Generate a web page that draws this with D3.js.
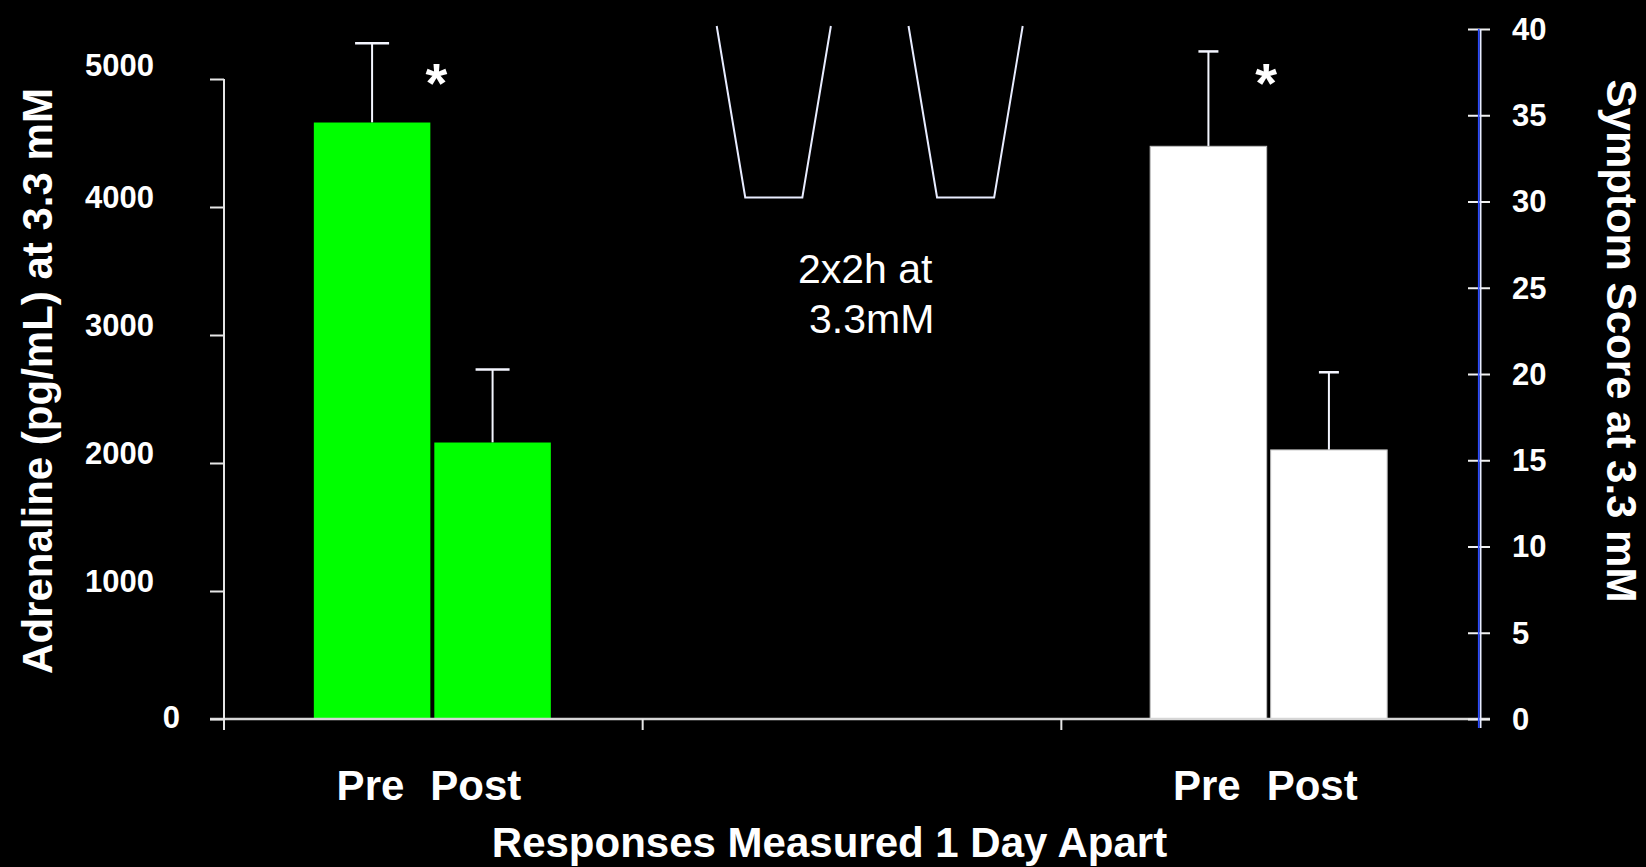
<!DOCTYPE html>
<html><head><meta charset="utf-8">
<script src="https://cdn.jsdelivr.net/npm/d3@7"></script>
<style>html,body{margin:0;padding:0;background:#000;overflow:hidden}</style>
</head><body>
<svg id="chart" width="1646" height="867"></svg>
<script>
// ---------- data ----------
const groups = ["Day 1", "Clamp", "Day 2"];
const conditions = ["Pre", "Post"];
const adrenalineMean = [4660, 2160];      // pg/mL (left axis)
const adrenalineSEM  = [620, 570];
const symptomMean    = [33.2, 15.6];      // score (right axis)
const symptomSEM     = [5.5, 4.5];
const significance   = ["*", "*"];
const leftTicks  = [0, 1000, 2000, 3000, 4000, 5000];
const rightTicks = [0, 5, 10, 15, 20, 25, 30, 35, 40];
const clampTimes   = [[0, 0.5, 1.5, 2.0], [3.36, 3.86, 4.86, 5.36]]; // h
const clampGlucose = [5.0, 3.3, 3.3, 5.0];                           // mM

// ---------- layout ----------
const svg = d3.select("#chart");
svg.append("rect").attr("width",1646).attr("height",867).attr("fill","#000");
const FONT = "'Liberation Sans', Arial, sans-serif";

const x = d3.scaleBand().domain(groups).range([224, 1480]);
const xSub = d3.scaleBand().domain(conditions).range([-118.5, 118.5]).paddingInner(0.033);
const yL = d3.scaleLinear().domain([0, 5000]).range([719, 79]);
const yR = d3.scaleLinear().domain([0, 40]).range([719, 29]);

const series = [
  {group: "Day 1", y: yL, mean: adrenalineMean, sem: adrenalineSEM, fill: "#00ff00", stroke: "none", cap: 34, shift: -1, ast: 4},
  {group: "Day 2", y: yR, mean: symptomMean, sem: symptomSEM, fill: "#ffffff", stroke: "#bdbdbd", cap: 20, shift: -2, ast: -2.5}
];

// bars + error bars
series.forEach((s, si) => {
  const cx = x(s.group) + x.bandwidth() / 2 + s.shift;
  const g = svg.append("g").attr("transform", `translate(${cx},0)`);
  conditions.forEach((c, i) => {
    const x0 = xSub(c), w = xSub.bandwidth();
    const top = s.y(s.mean[i]);
    const errTop = s.y(s.mean[i] + s.sem[i]);
    const mid = x0 + w / 2;
    g.append("line").attr("x1", mid).attr("x2", mid).attr("y1", top).attr("y2", errTop)
      .attr("stroke", "#f4f6ff").attr("stroke-width", 2);
    g.append("line").attr("x1", mid - s.cap / 2).attr("x2", mid + s.cap / 2)
      .attr("y1", errTop).attr("y2", errTop).attr("stroke", "#f4f6ff").attr("stroke-width", 2.5);
    g.append("rect").attr("x", x0).attr("y", top).attr("width", w).attr("height", s.y(0) - top)
      .attr("fill", s.fill).attr("stroke", s.stroke).attr("stroke-width", s.stroke === "none" ? 0 : 1);
  });
  // significance marker
  g.append("text").attr("x", s.ast).attr("y", 102).attr("text-anchor", "middle")
    .attr("fill", "#fff").attr("font-family", FONT).attr("font-weight", "bold")
    .attr("font-size", 56).text(significance[si]);
  // category labels
  g.append("text").attr("x", -28).attr("y", 800).attr("text-anchor", "end")
    .attr("fill", "#fff").attr("font-family", FONT).attr("font-weight", "bold")
    .attr("font-size", 42).text(conditions[0]);
  g.append("text").attr("x", -2).attr("y", 800).attr("text-anchor", "start")
    .attr("fill", "#fff").attr("font-family", FONT).attr("font-weight", "bold")
    .attr("font-size", 42).text(conditions[1]);
});

// x axis
svg.append("line").attr("x1", 210).attr("x2", 1490).attr("y1", yL(0)).attr("y2", yL(0))
  .attr("stroke", "#d6d6d6").attr("stroke-width", 2.5);
groups.slice(1).forEach(gname => {
  svg.append("line").attr("x1", x(gname)).attr("x2", x(gname)).attr("y1", yL(0)).attr("y2", yL(0) + 11)
    .attr("stroke", "#e6e6e6").attr("stroke-width", 2);
});

// left axis
const axL = svg.append("g").attr("transform", "translate(224,0)")
  .call(d3.axisLeft(yL).tickValues(leftTicks).tickSize(14).tickSizeOuter(0).tickFormat(""));
axL.select(".domain").remove();
axL.selectAll(".tick line").attr("stroke", "#e6e6e6").attr("stroke-width", 2);
axL.append("line").attr("x1", 0).attr("x2", 0).attr("y1", yL(5000)).attr("y2", yL(0) + 11)
  .attr("stroke", "#e6e6e6").attr("stroke-width", 2);
svg.append("g").selectAll("text").data(leftTicks).join("text")
  .attr("x", d => d === 0 ? 180 : 154)
  .attr("y", d => yL(d) + (d === 0 ? -2 : d === 5000 ? -14 : -10))
  .attr("dy", "0.35em").attr("text-anchor", "end")
  .attr("fill", "#fff").attr("font-family", FONT).attr("font-weight", "bold").attr("font-size", 31)
  .text(d => d);

// right axis
const axR = svg.append("g").attr("transform", "translate(1480,0)")
  .call(d3.axisRight(yR).tickValues(rightTicks).tickSize(10).tickSizeOuter(0).tickFormat(""));
axR.select(".domain").remove();
axR.selectAll(".tick line").attr("x1", -12).attr("x2", 10).attr("stroke", "#f0f0f0").attr("stroke-width", 2);
axR.append("line").attr("x1", -1.2).attr("x2", -1.2).attr("y1", yR(40)).attr("y2", yR(0) + 9)
  .attr("stroke", "#2a4bff").attr("stroke-width", 1.8);
axR.append("line").attr("x1", 0.7).attr("x2", 0.7).attr("y1", yR(40)).attr("y2", yR(0) + 9)
  .attr("stroke", "#e8ecff").attr("stroke-width", 1.6);
svg.append("g").selectAll("text").data(rightTicks).join("text")
  .attr("x", 1512).attr("y", d => yR(d)).attr("dy", "0.35em")
  .attr("fill", "#fff").attr("font-family", FONT).attr("font-weight", "bold").attr("font-size", 31)
  .text(d => d);

// axis titles
svg.append("text").attr("transform", "translate(52,381) rotate(-90)").attr("text-anchor", "middle")
  .attr("fill", "#fff").attr("font-family", FONT).attr("font-weight", "bold").attr("font-size", 42)
  .text("Adrenaline (pg/mL) at 3.3 mM");
svg.append("text").attr("transform", "translate(1607,341) rotate(90)").attr("text-anchor", "middle")
  .attr("fill", "#fff").attr("font-family", FONT).attr("font-weight", "bold").attr("font-size", 42)
  .text("Symptom Score at 3.3 mM");
svg.append("text").attr("x", 829.5).attr("y", 857).attr("text-anchor", "middle")
  .attr("fill", "#fff").attr("font-family", FONT).attr("font-weight", "bold").attr("font-size", 42)
  .text("Responses Measured 1 Day Apart");

// clamp schematic
const xT = d3.scaleLinear().domain([0, 5.36]).range([716.7, 1022.7]);
const yG = d3.scaleLinear().domain([3.3, 5.0]).range([197.5, 26]);
const lineGen = d3.line().x(d => xT(d[0])).y(d => yG(d[1]));
clampTimes.forEach(ts => {
  svg.append("path").attr("d", lineGen(ts.map((t, i) => [t, clampGlucose[i]])))
    .attr("fill", "none").attr("stroke", "#e8ecff").attr("stroke-width", 2);
});
svg.append("text").attr("x", 798).attr("y", 283).attr("fill", "#fff")
  .attr("font-family", FONT).attr("font-size", 41).text("2x2h at");
svg.append("text").attr("x", 809).attr("y", 333).attr("fill", "#fff")
  .attr("font-family", FONT).attr("font-size", 41).text("3.3mM");
</script>
</body></html>
